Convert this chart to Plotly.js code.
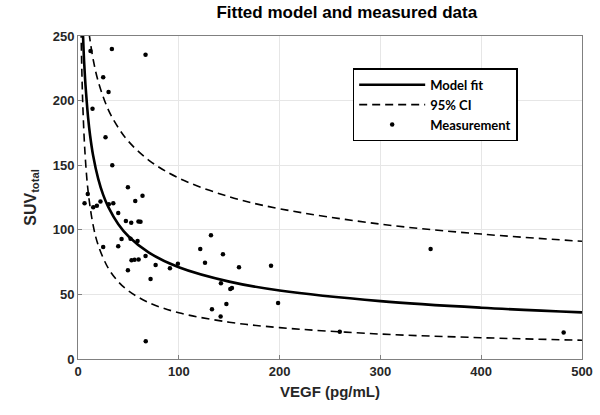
<!DOCTYPE html>
<html><head><meta charset="utf-8">
<script src="https://cdn.plot.ly/plotly-3.0.1.min.js"></script>
<style>body{margin:0;background:#fff}#c{width:600px;height:415px}</style>
</head><body><div id="c"></div>
<script>
// Measured data (VEGF pg/mL, SUV total)
var measX = [12.4,33.6,67,25,30.3,14.4,27.3,34,49.5,64,9.7,6.5,15.1,18.7,22.3,30.6,35,56.8,39.9,47.5,52.8,60,62,43.2,52.1,59.1,39.9,25,53.1,56.1,60.1,67,49.5,77,72,91.2,99.1,67.2,121.3,126,131.9,143.8,159.7,191.5,141.8,151.1,152.7,147.2,132.9,141.5,198.5,349.8,259.7,481.8];
var measY = [238.4,240,235.5,218,206.7,193.7,171.6,150,133,126.4,127.7,120.5,117.4,118.7,122,119.7,120.5,122.3,113,106.8,105.5,106.5,106.3,92.9,93.1,91.3,87.2,86.7,76.4,76.9,77.1,79.7,68.7,72.8,61.9,70.2,73.8,13.7,85.1,74.5,95.7,81,71,72.2,58.6,54.2,55,42.6,38.5,32.8,43.3,85.1,21.1,20.6];
// Model fit
var fitX = [4.5,5,6,7,8,10,12,15,20,25,30,40,50,70,100,150,200,300,400,500];
var fitY = [261,250,231,217,206,187,173,157.5,139.6,127,117.7,104.3,95,82.5,71,59.9,53,44.8,39.7,36.1];
// 95% CI bounds
var upX = [11,12,15,20,30,40,50,70,100,150,200,300,400,500];
var upY = [252,246.5,232,215,193,179,168.5,154,140,125.6,116.3,104.4,96.7,91.1];
var loX = [3,4,5,7,10,15,20,30,40,50,70,100,150,200,300,400,500];
var loY = [255,217,191.6,158.7,130,103.6,88.2,70.3,59.8,52.8,43.7,35.8,28.5,24.3,19.3,16.5,14.5];
var xTicks = [0,100,200,300,400,500];
var yTicks = [0,50,100,150,200,250];

var traces = [
  {x: fitX, y: fitY, mode:'lines', name:'Model fit', line:{color:'#000', width:2.6, shape:'spline'}},
  {x: upX, y: upY, mode:'lines', name:'95% CI', line:{color:'#000', width:1.6, dash:'8px,5px', shape:'spline'}},
  {x: loX, y: loY, mode:'lines', name:'lower CI', showlegend:false, line:{color:'#000', width:1.6, dash:'8px,5px', shape:'spline'}},
  {x: measX, y: measY, mode:'markers', name:'Measurement', marker:{color:'#000', size:4.5}}
];
var axFont = {family:'Liberation Sans, Arial, sans-serif', size:13, color:'#262626', weight:'bold'};
var layout = {
  width:600, height:415,
  margin:{l:78, r:18, t:36, b:56},
  paper_bgcolor:'#fff', plot_bgcolor:'#fff',
  title:{text:'<b>Fitted model and measured data</b>', x:0.578, xanchor:'center', y:0.985, yanchor:'top',
    font:{family:'Liberation Sans, Arial, sans-serif', size:17, color:'#000'}},
  xaxis:{range:[0,500], tickvals:xTicks, ticktext:xTicks.map(String), showgrid:true, gridcolor:'#e6e6e6',
    zeroline:false, showline:true, linecolor:'#808080', linewidth:1, mirror:true,
    ticks:'inside', ticklen:4, tickcolor:'#808080', tickfont:axFont,
    title:{text:'<b>VEGF (pg/mL)</b>', standoff:8, font:{family:'Liberation Sans, Arial, sans-serif', size:15, color:'#262626'}}},
  yaxis:{range:[0,250], tickvals:yTicks, ticktext:yTicks.map(String), showgrid:true, gridcolor:'#e6e6e6',
    zeroline:false, showline:true, linecolor:'#808080', linewidth:1, mirror:true,
    ticks:'inside', ticklen:4, tickcolor:'#808080', tickfont:axFont,
    title:{text:'<b>SUV<sub>total</sub></b>', standoff:12, font:{family:'Liberation Sans, Arial, sans-serif', size:16, color:'#262626'}}},
  legend:{x:0.545, y:0.9, xanchor:'left', yanchor:'top', bgcolor:'#fff', bordercolor:'#000', borderwidth:1.5,
    font:{family:'Lato, Open Sans, sans-serif', size:13, color:'#000', weight:'bold'}, itemwidth:66, tracegroupgap:2},
  showlegend:true
};
Plotly.newPlot('c', traces, layout, {displayModeBar:false, staticPlot:true});
</script></body></html>
